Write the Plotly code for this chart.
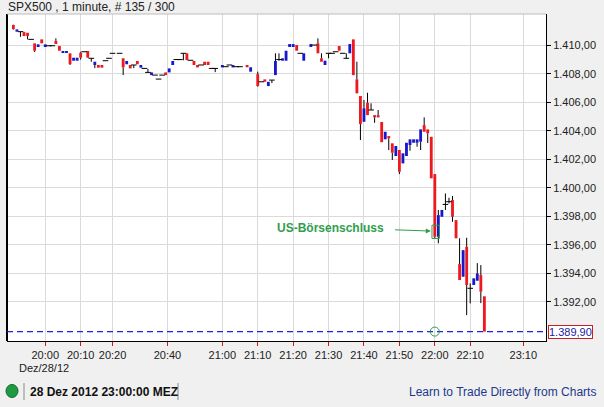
import plotly.graph_objects as go

# ---------------- data (1-minute candles, bar-slot index on x) ----------------
slot = [2, 3, 4, 5, 6, 7, 8, 9, 10, 11, 12, 13, 14, 15, 16, 17, 18, 19, 20, 21,
        22, 23, 24, 25, 26, 27, 28, 29, 30, 32, 33, 34, 35, 36, 37, 38, 39, 40, 41, 42,
        43, 44, 45, 46, 47, 48, 49, 50, 51, 52, 53, 54, 55, 56, 57, 58, 59, 61, 62, 63,
        64, 65, 66, 68, 69, 71, 72, 73, 74, 75, 76, 77, 78, 79, 80, 81, 82, 83, 84, 86,
        87, 88, 89, 90, 91, 92, 93, 94, 95, 96, 97, 98, 99, 100, 101, 102, 103, 104, 105, 106,
        107, 108, 109, 110, 111, 112, 113, 114, 115, 116, 117, 118, 119, 120, 121, 122, 123, 124, 125, 126,
        127, 128, 129, 130, 131, 132, 133, 134, 135]
open_ = [1411.43, 1410.96, 1410.96, 1410.93, 1410.88, 1410.42, 1410.14, 1409.95, 1410.42, 1409.95,
         1409.97, 1409.97, 1410.32, 1409.95, 1409.48, 1409.48, 1409.44, 1408.92, 1408.92, 1409.48,
         1409.55, 1409.60, 1409.09, 1408.62, 1408.62, 1408.62, 1408.92, 1409.09, 1409.44, 1409.44,
         1409.09, 1408.67, 1408.62, 1408.62, 1408.90, 1408.43, 1408.38, 1408.10, 1407.91, 1407.91,
         1407.63, 1407.91, 1408.10, 1408.10, 1408.62, 1409.00, 1409.00, 1409.44, 1409.44, 1408.95,
         1408.90, 1408.62, 1408.62, 1408.85, 1408.85, 1408.38, 1408.38, 1408.45, 1408.50, 1408.62,
         1408.45, 1408.50, 1408.50, 1408.62, 1408.15, 1407.98, 1407.44, 1407.61, 1407.14, 1407.56,
         1407.91, 1409.00, 1408.92, 1408.92, 1409.95, 1409.95, 1410.02, 1409.44, 1408.92, 1409.95,
         1410.02, 1410.14, 1409.09, 1408.62, 1409.44, 1409.44, 1409.55, 1409.95, 1409.44, 1409.09,
         1409.44, 1410.42, 1407.61, 1406.44, 1404.63, 1405.97, 1405.46, 1405.10, 1405.10, 1404.62,
         1403.40, 1403.63, 1403.12, 1402.23, 1402.65, 1401.71, 1402.23, 1403.00, 1403.16, 1403.16,
         1403.23, 1404.40, 1404.10, 1403.58, 1400.96, 1396.56, 1397.96, 1398.83, 1399.02, 1399.14,
         1397.73, 1394.64, 1393.75, 1395.86, 1392.94, 1393.17, 1393.47, 1393.87, 1392.38]
high = [1411.45, 1411.12, 1410.96, 1410.95, 1410.88, 1410.42, 1410.14, 1410.07, 1410.42, 1410.07,
        1409.97, 1409.97, 1410.49, 1409.95, 1409.60, 1409.60, 1409.44, 1409.13, 1409.13, 1409.55,
        1409.55, 1409.60, 1409.09, 1408.85, 1408.62, 1408.62, 1408.92, 1409.09, 1409.44, 1409.44,
        1409.09, 1408.90, 1408.62, 1408.62, 1408.90, 1408.62, 1408.38, 1408.35, 1408.10, 1407.91,
        1407.63, 1407.91, 1408.10, 1408.38, 1408.90, 1409.00, 1409.00, 1409.44, 1409.44, 1408.95,
        1408.90, 1408.62, 1408.62, 1408.85, 1408.85, 1408.38, 1408.38, 1408.62, 1408.50, 1408.62,
        1408.62, 1408.50, 1408.50, 1408.62, 1408.46, 1408.15, 1407.44, 1407.61, 1407.44, 1407.56,
        1409.44, 1409.44, 1409.09, 1409.62, 1410.09, 1410.09, 1410.02, 1409.44, 1409.44, 1410.09,
        1410.02, 1410.49, 1409.44, 1408.92, 1409.44, 1409.44, 1409.55, 1409.95, 1409.44, 1409.44,
        1410.09, 1410.42, 1408.85, 1406.44, 1406.16, 1406.67, 1405.93, 1405.10, 1405.46, 1404.62,
        1403.93, 1403.63, 1403.12, 1402.93, 1402.65, 1402.42, 1403.16, 1403.40, 1403.40, 1403.40,
        1404.10, 1404.94, 1404.10, 1403.58, 1400.96, 1398.44, 1398.44, 1399.60, 1399.30, 1399.42,
        1397.73, 1396.45, 1395.62, 1396.49, 1393.29, 1393.64, 1394.71, 1394.57, 1392.38]
low = [1411.10, 1410.96, 1410.60, 1410.65, 1410.42, 1410.42, 1409.53, 1409.95, 1410.14, 1409.95,
       1409.97, 1409.97, 1410.09, 1409.62, 1409.48, 1409.48, 1408.62, 1408.92, 1408.92, 1409.00,
       1409.55, 1409.13, 1408.85, 1408.40, 1408.43, 1408.43, 1408.92, 1409.09, 1409.44, 1409.44,
       1407.91, 1408.67, 1408.38, 1408.40, 1408.67, 1408.43, 1408.38, 1408.10, 1407.91, 1407.91,
       1407.63, 1407.91, 1407.91, 1408.10, 1408.62, 1409.00, 1409.00, 1408.95, 1408.97, 1408.95,
       1408.62, 1408.45, 1408.62, 1408.62, 1408.62, 1408.38, 1408.12, 1408.45, 1408.50, 1408.62,
       1408.45, 1408.50, 1408.50, 1408.46, 1408.15, 1407.10, 1407.44, 1407.44, 1407.14, 1407.35,
       1407.91, 1408.92, 1408.92, 1408.92, 1409.95, 1409.95, 1409.62, 1409.44, 1408.92, 1409.95,
       1410.02, 1409.44, 1408.85, 1408.62, 1409.09, 1409.44, 1409.55, 1409.62, 1409.44, 1409.09,
       1409.44, 1407.91, 1406.63, 1403.35, 1404.63, 1405.10, 1405.46, 1404.56, 1404.94, 1403.20,
       1403.40, 1402.65, 1401.95, 1402.23, 1400.96, 1401.71, 1402.23, 1402.60, 1403.16, 1402.88,
       1402.65, 1403.93, 1403.14, 1400.66, 1396.40, 1396.10, 1397.96, 1398.44, 1398.90, 1397.61,
       1396.45, 1393.52, 1393.75, 1391.06, 1391.88, 1393.17, 1393.47, 1391.90, 1389.90]
close = [1411.14, 1411.12, 1410.96, 1410.65, 1410.65, 1410.42, 1409.62, 1410.07, 1410.14, 1410.07,
         1409.97, 1409.97, 1410.09, 1409.62, 1409.60, 1409.60, 1408.68, 1409.13, 1409.13, 1409.13,
         1409.55, 1409.13, 1409.09, 1408.85, 1408.43, 1408.43, 1408.92, 1409.09, 1409.44, 1409.44,
         1408.45, 1408.90, 1408.38, 1408.62, 1408.67, 1408.62, 1408.38, 1408.10, 1408.10, 1407.91,
         1407.63, 1407.91, 1407.91, 1408.38, 1408.90, 1409.00, 1409.00, 1409.44, 1408.97, 1408.95,
         1408.62, 1408.45, 1408.62, 1408.62, 1408.62, 1408.38, 1408.38, 1408.62, 1408.50, 1408.62,
         1408.62, 1408.50, 1408.50, 1408.46, 1408.46, 1407.14, 1407.44, 1407.44, 1407.44, 1407.56,
         1408.90, 1409.00, 1409.09, 1409.62, 1410.09, 1410.09, 1409.62, 1409.44, 1409.44, 1410.09,
         1410.02, 1409.44, 1408.85, 1408.92, 1409.44, 1409.44, 1409.55, 1409.62, 1409.44, 1409.09,
         1410.09, 1407.91, 1406.63, 1404.47, 1405.58, 1405.10, 1405.46, 1404.94, 1404.94, 1403.20,
         1403.93, 1403.47, 1402.46, 1402.93, 1401.12, 1402.42, 1403.16, 1403.40, 1403.40, 1403.40,
         1404.10, 1403.93, 1403.82, 1400.66, 1396.56, 1398.08, 1398.44, 1398.83, 1399.02, 1397.96,
         1396.45, 1393.52, 1395.62, 1393.17, 1392.94, 1393.64, 1393.99, 1392.70, 1389.90]

x_tick_slots = [11, 21, 30, 45.5, 61, 71, 81, 91, 101, 111, 121, 131, 146]
x_tick_text = ["20:00", "20:10", "20:20", "20:40", "21:00", "21:10", "21:20", "21:30",
               "21:40", "21:50", "22:00", "22:10", "23:10"]
y_ticks = [1392, 1394, 1396, 1398, 1400, 1402, 1404, 1406, 1408, 1410]

title_text = "SPX500 , 1 minute, # 135 / 300"
date_text = "Dez/28/12"
status_text = "28 Dez 2012 23:00:00 MEZ"
link_text = "Learn to Trade Directly from Charts"
note_text = "US-Börsenschluss"
close_slot = 121          # 22:00 candle (US market close)

# ---------------- styling ----------------
W, H = 604, 407
ML, MR, MT, MB = 7, 58, 14, 66
PW, PH = W - ML - MR, H - MT - MB
RED, BLUE, GREEN = "#ec1a1f", "#1717cc", "#2f9e4c"
FONT = "Arial, Liberation Sans, sans-serif"


def px_x(px):
    return (px - ML) / PW


def px_y(py):
    return (H - MB - py) / PH


last_price = close[-1]
last_label = f"{last_price:,.2f}".replace(",", "X").replace(".", ",").replace("X", ".")

up = [i for i in range(len(slot)) if close[i] > open_[i]]
dn = [i for i in range(len(slot)) if close[i] < open_[i]]
dj = [i for i in range(len(slot)) if close[i] == open_[i]]

# wicks: only the parts outside the body (bars are drawn beneath scatter traces)
wx, wy = [], []
for i in range(len(slot)):
    top, bot = max(open_[i], close[i]), min(open_[i], close[i])
    if high[i] > top:
        wx += [slot[i], slot[i], None]
        wy += [top, high[i], None]
    if low[i] < bot:
        wx += [slot[i], slot[i], None]
        wy += [low[i], bot, None]

fig = go.Figure()
fig.add_trace(go.Bar(x=[slot[i] for i in up], y=[close[i] - open_[i] for i in up],
                     base=[open_[i] for i in up], width=0.8,
                     marker=dict(color=BLUE, line=dict(width=0))))
fig.add_trace(go.Bar(x=[slot[i] for i in dn], y=[open_[i] - close[i] for i in dn],
                     base=[close[i] for i in dn], width=0.8,
                     marker=dict(color=RED, line=dict(width=0))))
fig.add_trace(go.Scatter(x=wx, y=wy, mode="lines", line=dict(color="black", width=1),
                         hoverinfo="skip"))
fig.add_trace(go.Scatter(x=[slot[i] for i in dj], y=[close[i] for i in dj], mode="markers",
                         marker=dict(symbol="line-ew", size=4,
                                     line=dict(color="black", width=1))))

fig.update_layout(
    width=W, height=H, margin=dict(l=ML, r=MR, t=MT, b=MB),
    paper_bgcolor="#f0f0f0", plot_bgcolor="white", showlegend=False,
    barmode="overlay", separators=",.",
    font=dict(family=FONT, size=11, color="#222"),
    xaxis=dict(range=[0.2, 152.4], tickmode="array", tickvals=x_tick_slots,
               ticktext=x_tick_text, ticks="outside", ticklen=4, tickcolor="#d01818",
               showline=True, linecolor="black", linewidth=1, showgrid=True,
               gridcolor="#dadada", gridwidth=1, zeroline=False,
               tickfont=dict(family=FONT, size=11, color="#222")),
    yaxis=dict(side="right", range=[1389.24, 1412.2], tickmode="array", tickvals=y_ticks,
               tickformat=",.2f", ticks="outside", ticklen=4, tickcolor="black",
               showline=True, linecolor="black", linewidth=1, showgrid=True,
               gridcolor="#dadada", gridwidth=1, zeroline=False,
               tickfont=dict(family=FONT, size=11, color="#222")),
)

shapes = [
    dict(type="line", xref="paper", yref="paper", x0=0, x1=0, y0=0, y1=1,
         line=dict(color="black", width=2)),
    dict(type="line", xref="paper", yref="paper", x0=0, x1=1, y0=1, y1=1,
         line=dict(color="#bdbdbd", width=1)),
    dict(type="line", xref="paper", yref="y", x0=0, x1=1, y0=last_price, y1=last_price,
         line=dict(color="#1f1fe6", width=1.2, dash="6px,4px")),
    dict(type="circle", xref="x", yref="y", xsizemode="pixel", ysizemode="pixel",
         xanchor=close_slot, yanchor=last_price, x0=-4.5, x1=4.5, y0=-4.5, y1=4.5,
         line=dict(color=GREEN, width=1)),
    dict(type="rect", xref="x", yref="y", x0=120.2, x1=122.3, y0=1396.44, y1=1397.37,
         line=dict(color=GREEN, width=1)),
    # status bar
    dict(type="circle", xref="paper", yref="paper", xsizemode="pixel", ysizemode="pixel",
         xanchor=px_x(12), yanchor=px_y(391), x0=-6, x1=6, y0=-6.5, y1=6.5,
         fillcolor="#1f9a43", line=dict(color="#0e6a2a", width=1)),
    dict(type="line", xref="paper", yref="paper", x0=px_x(24), x1=px_x(24),
         y0=px_y(383), y1=px_y(400), line=dict(color="#8a8a8a", width=1)),
    dict(type="line", xref="paper", yref="paper", x0=px_x(178), x1=px_x(178),
         y0=px_y(383), y1=px_y(400), line=dict(color="#8a8a8a", width=1)),
]
fig.update_layout(shapes=shapes)

annotations = [
    dict(text=title_text, xref="paper", yref="paper", x=px_x(6), y=px_y(7.5),
         xanchor="left", yanchor="middle", showarrow=False,
         font=dict(family=FONT, size=12, color="#222")),
    dict(text=date_text, xref="paper", yref="paper", x=px_x(17), y=px_y(368),
         xanchor="left", yanchor="middle", showarrow=False,
         font=dict(family=FONT, size=11, color="#222")),
    dict(text=f"<b>{status_text}</b>", xref="paper", yref="paper", x=px_x(28), y=px_y(392),
         xanchor="left", yanchor="middle", showarrow=False,
         font=dict(family=FONT, size=12, color="#111")),
    dict(text=link_text, xref="paper", yref="paper", x=px_x(598), y=px_y(392),
         xanchor="right", yanchor="middle", showarrow=False,
         font=dict(family=FONT, size=12, color="#22388c")),
    dict(text=last_label, xref="paper", yref="y", x=1, y=last_price, xanchor="left",
         yanchor="middle", xshift=2, showarrow=False, bgcolor="white",
         bordercolor="#cc2020", borderwidth=1, borderpad=0,
         font=dict(family=FONT, size=11, color="#1a1aa0")),
    dict(text=f"<b>{note_text}</b>", xref="x", yref="y", x=close_slot, y=1396.95,
         showarrow=True, ax=-104.7, ay=-3.6, arrowcolor=GREEN, arrowwidth=1,
         arrowhead=2, arrowsize=1, standoff=4, startstandoff=10,
         font=dict(family=FONT, size=12, color=GREEN)),
]
fig.update_layout(annotations=annotations)

fig.write_html("out.html", config={"displayModeBar": False},
               post_script="document.body.style.margin='0';document.body.style.overflow='hidden';")
